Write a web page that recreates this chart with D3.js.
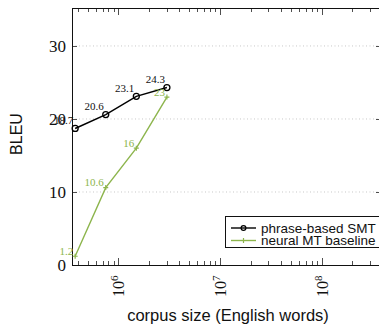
<!DOCTYPE html>
<html>
<head>
<meta charset="utf-8">
<script src="https://cdn.jsdelivr.net/npm/d3@7"></script>
<style>
  html, body { margin: 0; padding: 0; background: #fff; }
  svg { display: block; }
</style>
</head>
<body>
<svg id="chart" width="379" height="325"></svg>
<script>
// Learning curves: BLEU against training corpus size (log scale)
const corpusSizes = [376000, 752000, 1504000, 3008000];
const smtScores = [18.7, 20.6, 23.1, 24.3];
const nmtScores = [1.2, 10.6, 16, 23];
const seriesNames = ["phrase-based SMT", "neural MT baseline"];
const yTickValues = [0, 10, 20, 30];
const xMajorExponents = [6, 7, 8];

const black = "#000";
const green = "#8db54d";
const serif = "'Liberation Serif', 'DejaVu Serif', serif";
const sans = "'Liberation Sans', Arial, sans-serif";

const svg = d3.select("#chart");
const plot = { left: 72, right: 381, top: 8, bottom: 265 };

const x = d3.scaleLog().domain([3.5e5, 3.85e8]).range([plot.left, plot.right]);
const y = d3.scaleLinear().domain([0, 35.2]).range([plot.bottom, plot.top]);

// horizontal dotted grid
svg.append("g").selectAll("line")
  .data(yTickValues.filter(v => v > 0))
  .join("line")
  .attr("x1", plot.left).attr("x2", plot.right)
  .attr("y1", d => y(d)).attr("y2", d => y(d))
  .attr("stroke", "#c8c8c8").attr("stroke-width", 1)
  .attr("stroke-dasharray", "1,2.5");

// x ticks (inward, on bottom and top edges)
const isMajor = v => Math.abs(Math.log10(v) - Math.round(Math.log10(v))) < 1e-9;
const xTicks = x.ticks();
const tickG = svg.append("g").attr("stroke", "#222").attr("stroke-width", 0.8);
tickG.selectAll("line.xb").data(xTicks).join("line").attr("class", "xb")
  .attr("x1", d => Math.round(x(d)) + 0.5).attr("x2", d => Math.round(x(d)) + 0.5)
  .attr("y1", plot.bottom).attr("y2", d => plot.bottom - (isMajor(d) ? 7 : 4));
tickG.selectAll("line.xt").data(xTicks).join("line").attr("class", "xt")
  .attr("x1", d => Math.round(x(d)) + 0.5).attr("x2", d => Math.round(x(d)) + 0.5)
  .attr("y1", plot.top).attr("y2", d => plot.top + (isMajor(d) ? 7 : 4));
// y ticks (inward, left and right edges)
tickG.selectAll("line.yl").data(yTickValues).join("line").attr("class", "yl")
  .attr("x1", plot.left).attr("x2", plot.left + 5)
  .attr("y1", d => Math.round(y(d)) + 0.5).attr("y2", d => Math.round(y(d)) + 0.5);
tickG.selectAll("line.yr").data(yTickValues).join("line").attr("class", "yr")
  .attr("x1", plot.right).attr("x2", plot.right - 5)
  .attr("y1", d => Math.round(y(d)) + 0.5).attr("y2", d => Math.round(y(d)) + 0.5);

// axis frame
svg.append("rect")
  .attr("x", plot.left + 0.5).attr("y", plot.top + 0.5)
  .attr("width", plot.right - plot.left).attr("height", plot.bottom - plot.top)
  .attr("fill", "none").attr("stroke", "#111").attr("stroke-width", 1);

// y tick labels
svg.append("g").selectAll("text").data(yTickValues).join("text")
  .attr("x", plot.left - 6).attr("y", d => y(d))
  .attr("dy", "0.36em")
  .attr("text-anchor", "end")
  .attr("font-family", serif).attr("font-size", 17).attr("fill", "#111")
  .text(d => d);

// x tick labels: 10^k, rotated
const xl = svg.append("g").selectAll("text").data(xMajorExponents).join("text")
  .attr("transform", d => `translate(${x(Math.pow(10, d)) + 6},297) rotate(-90)`)
  .attr("text-anchor", "start")
  .attr("font-family", serif).attr("font-size", 16).attr("fill", "#111");
xl.append("tspan").text("10");
xl.append("tspan").attr("font-size", 11).attr("dy", -6).text(d => d);

// axis titles
svg.append("text")
  .attr("transform", `translate(22,134) rotate(-90)`)
  .attr("text-anchor", "middle")
  .attr("font-family", sans).attr("font-size", 16).attr("fill", "#111")
  .text("BLEU");
svg.append("text")
  .attr("x", 228).attr("y", 321)
  .attr("text-anchor", "middle")
  .attr("font-family", sans).attr("font-size", 16.5).attr("fill", "#111")
  .text("corpus size (English words)");

const line = d3.line().x(d => x(d[0])).y(d => y(d[1]));
const smt = corpusSizes.map((c, i) => [c, smtScores[i]]);
const nmt = corpusSizes.map((c, i) => [c, nmtScores[i]]);

// NMT series
svg.append("path").datum(nmt).attr("d", line)
  .attr("fill", "none").attr("stroke", green).attr("stroke-width", 1.4);
svg.append("g").selectAll("path").data(nmt).join("path")
  .attr("d", d => `M${x(d[0]) - 2.5},${y(d[1])}h5M${x(d[0])},${y(d[1]) - 2.5}v5`)
  .attr("stroke", green).attr("stroke-width", 1.2);

// SMT series
svg.append("path").datum(smt).attr("d", line)
  .attr("fill", "none").attr("stroke", black).attr("stroke-width", 1.5);
svg.append("g").selectAll("circle").data(smt).join("circle")
  .attr("cx", d => x(d[0])).attr("cy", d => y(d[1])).attr("r", 3)
  .attr("fill", "none").attr("stroke", black).attr("stroke-width", 1.3);

// value labels
svg.append("g").selectAll("text").data(nmt).join("text")
  .attr("x", d => x(d[0]) - 2).attr("y", d => y(d[1]) - 1.5)
  .attr("text-anchor", "end")
  .attr("font-family", serif).attr("font-size", 11).attr("fill", green)
  .text(d => d[1]);
svg.append("g").selectAll("text").data(smt).join("text")
  .attr("x", d => x(d[0]) - 2).attr("y", d => y(d[1]) - 4.5)
  .attr("text-anchor", "end")
  .attr("font-family", serif).attr("font-size", 11).attr("fill", "#111")
  .text(d => d[1]);

// legend
const lg = svg.append("g");
lg.append("rect").attr("x", 225.5).attr("y", 216.5).attr("width", 170).attr("height", 31)
  .attr("fill", "#fff").attr("stroke", "#111").attr("stroke-width", 1);
const rows = [
  { name: seriesNames[0], color: black, mark: "circle", cy: 228 },
  { name: seriesNames[1], color: green, mark: "plus", cy: 240.5 }
];
rows.forEach(r => {
  lg.append("line").attr("x1", 231).attr("x2", 256).attr("y1", r.cy).attr("y2", r.cy)
    .attr("stroke", r.color).attr("stroke-width", 1.4);
  if (r.mark === "circle") {
    lg.append("circle").attr("cx", 243.5).attr("cy", r.cy).attr("r", 2.4)
      .attr("fill", "none").attr("stroke", r.color).attr("stroke-width", 1.2);
  } else {
    lg.append("path").attr("d", `M241,${r.cy}h5M243.5,${r.cy - 2.5}v5`)
      .attr("stroke", r.color).attr("stroke-width", 1.2);
  }
  lg.append("text").attr("x", 261).attr("y", r.cy).attr("dy", "0.34em")
    .attr("font-family", sans).attr("font-size", 13.5).attr("fill", "#111")
    .text(r.name);
});
</script>
</body>
</html>
